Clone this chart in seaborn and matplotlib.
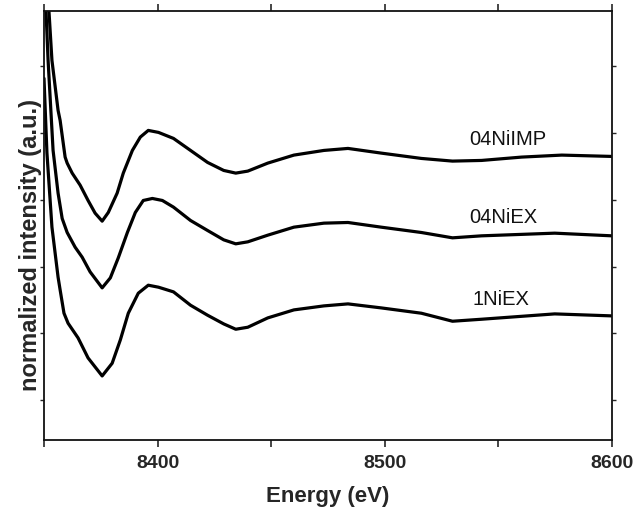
import matplotlib
matplotlib.use("Agg")
import matplotlib.pyplot as plt
import seaborn as sns
import pandas as pd

# XANES spectra at the Ni K-edge, offset vertically for clarity
samples = ["04NiIMP", "04NiEX", "1NiEX"]

energy_imp = [8350.8, 8352.2, 8353.5, 8356.2, 8357.1, 8359.3, 8360.2, 8362.4, 8365.9,
              8369.4, 8372.5, 8375.6, 8378.3, 8382.2, 8384.9, 8388.9, 8392.4, 8395.9,
              8400.4, 8407.0, 8414.5, 8422.0, 8429.1, 8434.4, 8439.7, 8448.5, 8460.0,
              8473.2, 8483.8, 8498.4, 8516.1, 8529.8, 8542.6, 8560.2, 8577.9, 8600.0]
intensity_imp = [7.60, 6.82, 6.09, 5.34, 5.19, 4.64, 4.55, 4.40, 4.22,
                 3.99, 3.80, 3.68, 3.81, 4.10, 4.40, 4.74, 4.94, 5.04,
                 5.01, 4.92, 4.74, 4.56, 4.44, 4.40, 4.43, 4.55, 4.67,
                 4.74, 4.77, 4.70, 4.62, 4.58, 4.59, 4.64, 4.67, 4.65]

energy_ex04 = [8350.0, 8350.9, 8351.8, 8354.0, 8356.2, 8358.0, 8360.2, 8363.7, 8366.8,
               8370.3, 8375.6, 8379.2, 8382.7, 8386.7, 8390.2, 8393.7, 8397.7, 8402.1,
               8407.0, 8414.5, 8422.0, 8429.1, 8434.4, 8439.7, 8448.5, 8460.0, 8473.2,
               8483.8, 8498.4, 8516.1, 8529.8, 8542.6, 8574.8, 8600.0]
intensity_ex04 = [7.40, 6.82, 6.09, 4.74, 4.10, 3.72, 3.51, 3.29, 3.14,
                  2.92, 2.68, 2.83, 3.13, 3.51, 3.81, 3.99, 4.02, 3.99,
                  3.89, 3.69, 3.54, 3.40, 3.34, 3.37, 3.47, 3.59, 3.65,
                  3.66, 3.59, 3.51, 3.43, 3.46, 3.50, 3.46]

energy_ex1 = [8350.0, 8351.3, 8353.5, 8356.2, 8357.1, 8358.8, 8360.6, 8365.0, 8369.4,
              8375.6, 8380.0, 8383.6, 8387.1, 8391.5, 8395.9, 8400.4, 8407.0, 8414.5,
              8422.0, 8429.1, 8434.4, 8439.7, 8448.5, 8460.0, 8473.2, 8483.8, 8498.4,
              8516.1, 8529.8, 8542.6, 8574.8, 8600.0]
intensity_ex1 = [5.82, 4.70, 3.59, 2.84, 2.65, 2.30, 2.15, 1.93, 1.63,
                 1.36, 1.55, 1.90, 2.30, 2.60, 2.72, 2.69, 2.62, 2.42,
                 2.27, 2.14, 2.06, 2.09, 2.23, 2.35, 2.41, 2.44, 2.38,
                 2.30, 2.18, 2.21, 2.29, 2.26]

x_ticks = [8350, 8400, 8450, 8500, 8550, 8600]
x_tick_labels = ["", "8400", "", "8500", "", "8600"]
y_ticks = [1, 2, 3, 4, 5, 6]

label_pos = {"04NiIMP": (8554, 4.90), "04NiEX": (8552, 3.73), "1NiEX": (8551, 2.50)}

frames = []
for name, e, i in zip(samples,
                      [energy_imp, energy_ex04, energy_ex1],
                      [intensity_imp, intensity_ex04, intensity_ex1]):
    frames.append(pd.DataFrame({"energy": e, "intensity": i, "sample": name}))
df = pd.concat(frames, ignore_index=True)

sns.set_style("ticks")
plt.rcParams["font.family"] = ["Liberation Sans", "DejaVu Sans"]

fig = plt.figure(figsize=(6.33, 5.13), dpi=100)
ax = fig.add_axes([0.0695, 0.1423, 0.8973, 0.8363])

sns.lineplot(data=df, x="energy", y="intensity", hue="sample", units="sample",
             estimator=None, sort=False, palette=["black"] * 3, linewidth=2.3,
             legend=False, ax=ax)
for line in ax.lines:
    line.set_solid_joinstyle("round")
    line.set_solid_capstyle("round")

for name, (xx, yy) in label_pos.items():
    ax.text(xx, yy, name, ha="center", va="center", fontsize=14.5, color="#111111")

ax.set_xlim(8350, 8600)
ax.set_ylim(0.4, 6.83)
ax.set_xticks(x_ticks)
ax.set_xticklabels(x_tick_labels, fontsize=14, fontweight="bold")
ax.set_yticks(y_ticks)
ax.set_yticklabels([])
ax.tick_params(axis="x", direction="out", length=5, width=1.2, pad=6, top=True)
ax.tick_params(axis="y", direction="out", length=3, width=1.0, right=True)
for side in ["top", "right", "bottom", "left"]:
    ax.spines[side].set_visible(True)
    ax.spines[side].set_linewidth(1.3)
    ax.spines[side].set_color("#111111")

ax.set_xlabel("Energy (eV)", fontsize=16, fontweight="bold", labelpad=10)
ax.set_ylabel("normalized intensity (a.u.)", fontsize=17, fontweight="bold")
ax.yaxis.set_label_coords(-0.004, 0.4545)

fig.savefig("out.png", dpi=100)
